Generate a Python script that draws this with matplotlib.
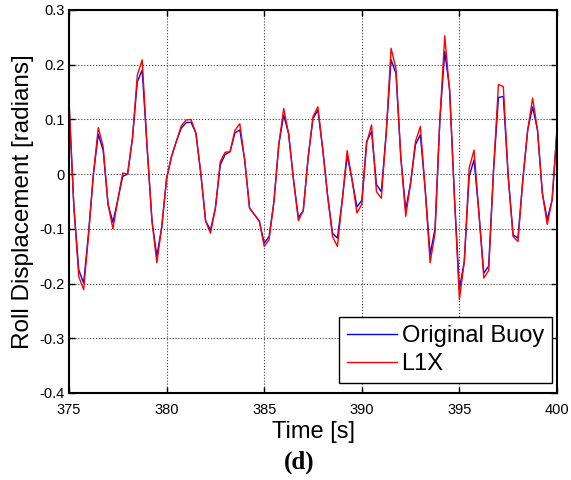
"""
Roll displacement of the original buoy and the L1X design, panel (d)
"""

import numpy as np
from matplotlib import pyplot as plt

# sample times [s], 0.25 s step
time = np.arange(375, 400.001, 0.25)

# roll displacement [radians]
original_buoy = [
    0.13, -0.06, -0.175, -0.199, -0.108, 0.0, 0.073, 0.043, -0.055, -0.088,
    -0.047, -0.004, 0.0, 0.065, 0.169, 0.19, 0.05, -0.085, -0.15, -0.097,
    -0.008, 0.032, 0.06, 0.084, 0.094, 0.095, 0.075, 0.002, -0.086, -0.102,
    -0.062, 0.017, 0.036, 0.041, 0.075, 0.081, 0.026, -0.062, -0.074, -0.086,
    -0.126, -0.114, -0.05, 0.055, 0.108, 0.074, -0.01, -0.079, -0.067, 0.03,
    0.102, 0.117, 0.045, -0.04, -0.108, -0.117, -0.047, 0.034, -0.01, -0.06,
    -0.048, 0.06, 0.078, -0.019, -0.032, 0.075, 0.209, 0.184, 0.03, -0.065,
    -0.016, 0.054, 0.072, -0.029, -0.147, -0.1, 0.1, 0.224, 0.155, -0.045,
    -0.21, -0.16, -0.004, 0.026, -0.071, -0.181, -0.168, 0.008, 0.14, 0.142,
    -0.004, -0.111, -0.117, -0.01, 0.081, 0.123, 0.081, -0.035, -0.083, -0.047,
    0.081,
]

l1x = [
    0.135, -0.06, -0.187, -0.211, -0.112, 0.0, 0.085, 0.05, -0.055, -0.1,
    -0.047, 0.002, 0.0, 0.065, 0.181, 0.209, 0.05, -0.085, -0.162, -0.097,
    -0.008, 0.032, 0.06, 0.088, 0.099, 0.1, 0.075, 0.002, -0.086, -0.108,
    -0.062, 0.023, 0.04, 0.041, 0.08, 0.092, 0.026, -0.062, -0.074, -0.086,
    -0.132, -0.12, -0.05, 0.055, 0.12, 0.074, -0.01, -0.085, -0.067, 0.03,
    0.105, 0.123, 0.045, -0.04, -0.114, -0.132, -0.047, 0.043, -0.01, -0.071,
    -0.055, 0.057, 0.09, -0.032, -0.044, 0.075, 0.23, 0.193, 0.03, -0.077,
    -0.016, 0.06, 0.087, -0.029, -0.162, -0.108, 0.1, 0.253, 0.15, -0.045,
    -0.229, -0.16, 0.011, 0.044, -0.071, -0.19, -0.176, 0.008, 0.164, 0.16,
    -0.004, -0.114, -0.123, -0.01, 0.081, 0.139, 0.081, -0.035, -0.092, -0.047,
    0.081,
]

x_ticks = [375, 380, 385, 390, 395, 400]
y_ticks = [-0.4, -0.3, -0.2, -0.1, 0, 0.1, 0.2, 0.3]
y_tick_labels = ["-0.4", "-0.3", "-0.2", "-0.1", "0", "0.1", "0.2", "0.3"]

plt.rcParams["font.family"] = ["Liberation Sans", "DejaVu Sans"]

fig = plt.figure(figsize=(5.71, 4.8), dpi=100)
ax = fig.add_axes([69 / 571, 1 - 393 / 480, 488 / 571, 383 / 480])

ax.plot(time, original_buoy, color="blue", lw=1.0, label="Original Buoy")
ax.plot(time, l1x, color="red", lw=1.0, label="L1X")

ax.set_xlim(375, 400)
ax.set_ylim(-0.4, 0.3)
ax.set_xticks(x_ticks)
ax.set_yticks(y_ticks)
ax.set_yticklabels(y_tick_labels)
ax.tick_params(direction="in", top=True, right=True, length=4, width=1,
               labelsize=10.5)
ax.tick_params(axis="x", pad=7)
ax.tick_params(axis="y", pad=3)
ax.grid(True, linestyle=":", color="0.25", lw=0.8)
for spine in ax.spines.values():
    spine.set_linewidth(1.5)

ax.set_xlabel("Time [s]", fontsize=17, labelpad=3)
ax.set_ylabel("Roll Displacement [radians]", fontsize=17.5, labelpad=4)

leg = ax.legend(loc="lower right", bbox_to_anchor=(0.99, 0.026),
                borderaxespad=0, fontsize=17, fancybox=False,
                edgecolor="black", framealpha=1, handlelength=2.1,
                handletextpad=0.2, labelspacing=0.25, borderpad=0.35)
leg.get_frame().set_linewidth(1.0)

fig.text(0.524, 1 - 462 / 480, "(d)", ha="center", va="center",
         fontsize=18, fontweight="bold", family="Liberation Serif")

plt.savefig("out.png")
